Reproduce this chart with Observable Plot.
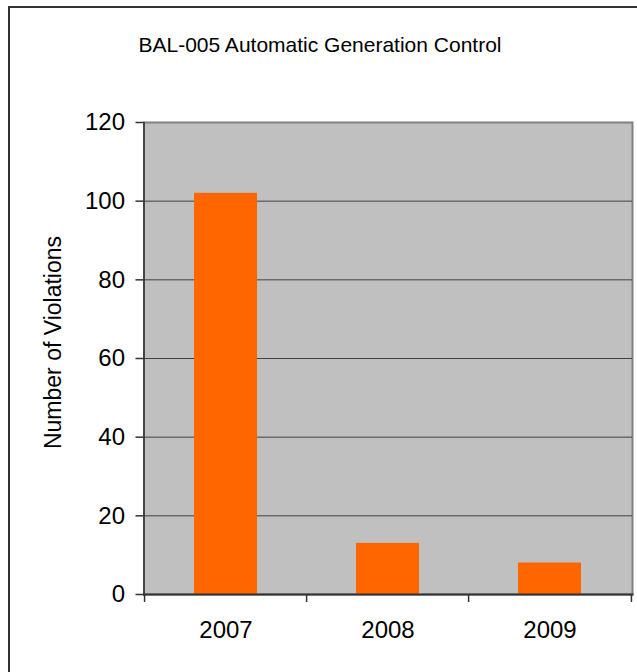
<!DOCTYPE html>
<html>
<head>
<meta charset="utf-8">
<script src="https://cdn.jsdelivr.net/npm/d3@7"></script>
<script src="https://cdn.jsdelivr.net/npm/@observablehq/plot@0.6"></script>
<style>
  html, body { margin: 0; padding: 0; background: #fff; }
  #wrap { position: relative; width: 637px; height: 672px; overflow: hidden; font-family: "Liberation Sans", Arial, sans-serif; }
  #border { position: absolute; left: 8px; top: 6px; width: 640px; height: 680px; border-left: 2px solid #333; border-top: 2px solid #333; }
  #title { position: absolute; left: 9px; width: 622px; top: 34px; text-align: center; font-size: 21px; line-height: 21px; color: #000; }
  #chart { position: absolute; left: 0; top: 0; }
</style>
</head>
<body>
<div id="wrap">
  <div id="chart"></div>
  <div id="border"></div>
  <div id="title">BAL-005 Automatic Generation Control</div>
</div>
<script>
const title = "BAL-005 Automatic Generation Control";
const yLabel = "Number of Violations";
const years = ["2007", "2008", "2009"];
const violations = [102, 13, 8];
const yTicks = [0, 20, 40, 60, 80, 100, 120];

const data = years.map((y, i) => ({year: y, value: violations[i]}));

const W = 637, H = 672;
const ml = 143.5, mr = 5, mt = 122, mb = 78;
const step = (W - ml - mr) / years.length;

const plot = Plot.plot({
  width: W,
  height: H,
  marginLeft: ml,
  marginRight: mr,
  marginTop: mt,
  marginBottom: mb,
  style: {fontFamily: "Liberation Sans, Arial, sans-serif", background: "transparent", color: "#000"},
  x: {domain: years, paddingInner: 0.61, paddingOuter: 0.305, label: null},
  y: {domain: [0, 120], label: null},
  marks: [
    Plot.frame({fill: "#c0c0c0", stroke: "#808080", strokeWidth: 2}),
    Plot.gridY(yTicks.slice(1, -1), {stroke: "#404040", strokeOpacity: 1, strokeWidth: 1}),
    Plot.barY(data, {x: "year", y: "value", fill: "#ff6600"}),
    Plot.frame({anchor: "left", stroke: "#333", strokeWidth: 1.5}),
    Plot.frame({anchor: "bottom", stroke: "#333", strokeWidth: 2}),
    Plot.axisY(yTicks, {tickSize: 8, tickPadding: 11, fontSize: 24, stroke: "#333", strokeWidth: 1.5, label: null}),
    Plot.axisX(years, {tickSize: 8, dx: -step / 2, text: null, stroke: "#333", strokeWidth: 1.5, label: null}),
    Plot.axisX(years.slice(-1), {tickSize: 8, dx: step / 2, text: null, stroke: "#333", strokeWidth: 1.5, label: null}),
    Plot.axisX(years, {tickSize: 0, tickPadding: 26, fontSize: 24, label: null}),
    Plot.text([yLabel], {frameAnchor: "left", rotate: -90, dx: -83, dy: -16, textAnchor: "middle", lineAnchor: "bottom", fontSize: 23, fill: "#000"})
  ]
});
document.getElementById("chart").appendChild(plot);
document.getElementById("title").textContent = title;
</script>
</body>
</html>
